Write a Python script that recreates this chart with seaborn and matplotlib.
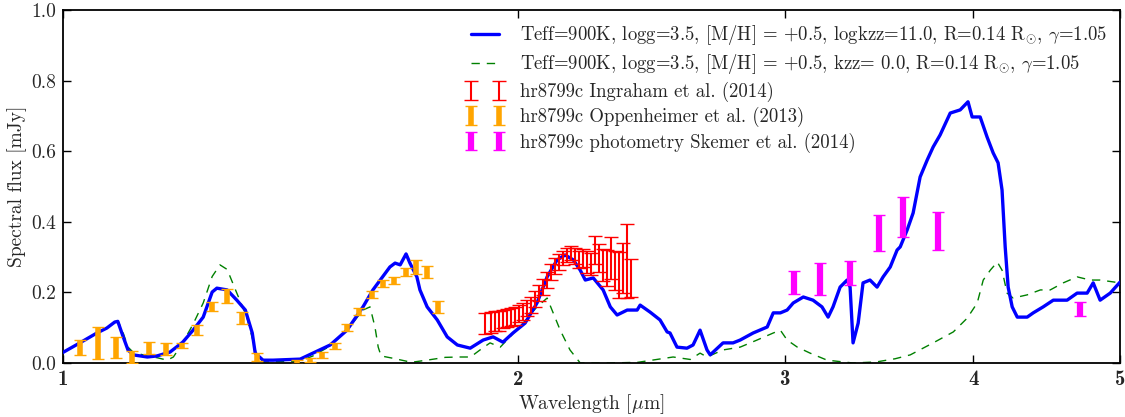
import numpy as np
import pandas as pd
import matplotlib
matplotlib.use("Agg")
import matplotlib.pyplot as plt
import seaborn as sns

# ---------------- data ----------------
wl_kzz11 = [1.000, 1.026, 1.053, 1.069, 1.082, 1.087, 1.096, 1.104, 1.113, 1.137, 1.154, 1.177,
            1.200, 1.219, 1.238, 1.255, 1.264, 1.284, 1.303, 1.320, 1.334, 1.340, 1.356, 1.377,
            1.435, 1.463, 1.502, 1.541, 1.579, 1.603, 1.621, 1.645, 1.658, 1.671, 1.686, 1.696,
            1.714, 1.722, 1.741, 1.768, 1.795, 1.823, 1.859, 1.896, 1.925, 1.954, 1.984, 2.021,
            2.058, 2.090, 2.122, 2.148, 2.175, 2.198, 2.215, 2.242, 2.276, 2.301, 2.325, 2.361,
            2.397, 2.408, 2.445, 2.482, 2.509, 2.520, 2.547, 2.586, 2.610, 2.638, 2.666, 2.679,
            2.732, 2.774, 2.804, 2.860, 2.922, 2.949, 2.981, 3.012, 3.040, 3.087, 3.133, 3.176,
            3.206, 3.230, 3.265, 3.300, 3.315, 3.330, 3.356, 3.381, 3.417, 3.454, 3.486, 3.524,
            3.561, 3.578, 3.616, 3.649, 3.688, 3.728, 3.762, 3.802, 3.861, 3.920, 3.967, 3.992,
            4.041, 4.084, 4.122, 4.153, 4.178, 4.198, 4.217, 4.243, 4.276, 4.341, 4.381, 4.448,
            4.517, 4.613, 4.684, 4.756, 4.800, 4.851, 4.926, 5.000]
fx_kzz11 = [0.030, 0.057, 0.085, 0.099, 0.116, 0.118, 0.074, 0.037, 0.023, 0.017, 0.020, 0.031,
            0.059, 0.093, 0.130, 0.201, 0.212, 0.207, 0.178, 0.150, 0.085, 0.028, 0.008, 0.008,
            0.011, 0.028, 0.051, 0.093, 0.159, 0.207, 0.235, 0.272, 0.283, 0.278, 0.309, 0.283,
            0.244, 0.207, 0.159, 0.122, 0.074, 0.051, 0.042, 0.065, 0.074, 0.059, 0.085, 0.113,
            0.170, 0.244, 0.292, 0.306, 0.292, 0.263, 0.235, 0.241, 0.207, 0.159, 0.136, 0.150,
            0.150, 0.164, 0.144, 0.122, 0.088, 0.085, 0.045, 0.042, 0.051, 0.093, 0.037, 0.023,
            0.057, 0.057, 0.065, 0.085, 0.102, 0.142, 0.142, 0.150, 0.170, 0.187, 0.178, 0.159,
            0.130, 0.159, 0.215, 0.235, 0.215, 0.057, 0.113, 0.227, 0.235, 0.215, 0.244, 0.272,
            0.320, 0.329, 0.377, 0.425, 0.527, 0.575, 0.612, 0.646, 0.708, 0.717, 0.740, 0.697,
            0.697, 0.640, 0.595, 0.567, 0.490, 0.329, 0.215, 0.159, 0.130, 0.130, 0.142, 0.159,
            0.178, 0.178, 0.198, 0.198, 0.227, 0.178, 0.198, 0.229]

wl_kzz0 = [1.000, 1.026, 1.053, 1.069, 1.082, 1.087, 1.096, 1.104, 1.113, 1.137, 1.154, 1.172,
           1.183, 1.200, 1.219, 1.238, 1.255, 1.270, 1.284, 1.303, 1.323, 1.344, 1.356, 1.435,
           1.463, 1.502, 1.541, 1.579, 1.596, 1.608, 1.616, 1.623, 1.650, 1.700, 1.740, 1.790,
           1.830, 1.860, 1.887, 1.916, 1.946, 1.975, 2.015, 2.058, 2.090, 2.132, 2.164, 2.198,
           2.300, 2.400, 2.532, 2.599, 2.638, 2.666, 2.732, 2.804, 2.877, 2.949, 2.981, 3.012,
           3.059, 3.119, 3.201, 3.330, 3.450, 3.550, 3.633, 3.762, 3.879, 3.962, 4.023, 4.060,
           4.104, 4.148, 4.178, 4.210, 4.249, 4.341, 4.429, 4.496, 4.586, 4.684, 4.778, 4.851,
           5.000]
fx_kzz0 = [0.030, 0.057, 0.085, 0.099, 0.116, 0.120, 0.085, 0.045, 0.030, 0.020, 0.015, 0.008,
           0.017, 0.057, 0.110, 0.170, 0.245, 0.278, 0.265, 0.198, 0.130, 0.017, 0.003, 0.005,
           0.020, 0.048, 0.093, 0.150, 0.159, 0.102, 0.045, 0.020, 0.014, 0.002, 0.008, 0.016,
           0.017, 0.017, 0.037, 0.057, 0.045, 0.074, 0.113, 0.159, 0.184, 0.093, 0.037, 0.000,
           0.000, 0.002, 0.017, 0.010, 0.028, 0.017, 0.037, 0.045, 0.065, 0.085, 0.093, 0.065,
           0.045, 0.028, 0.008, 0.000, 0.003, 0.012, 0.023, 0.057, 0.088, 0.127, 0.170, 0.235,
           0.263, 0.286, 0.263, 0.198, 0.184, 0.193, 0.207, 0.207, 0.227, 0.244, 0.235, 0.235,
           0.227]

ing_wl = [1.900, 1.919, 1.931, 1.943, 1.954, 1.967, 1.978, 1.991, 2.003, 2.015, 2.027, 2.040,
          2.052, 2.065, 2.077, 2.090, 2.102, 2.115, 2.128, 2.141, 2.154, 2.168, 2.181, 2.194,
          2.208, 2.221, 2.235, 2.248, 2.262, 2.276, 2.290, 2.304, 2.318, 2.332, 2.346, 2.361,
          2.375]
ing_fx = [0.112, 0.115, 0.118, 0.120, 0.124, 0.127, 0.130, 0.134, 0.140, 0.145, 0.156, 0.164,
          0.181, 0.198, 0.215, 0.235, 0.258, 0.275, 0.286, 0.297, 0.306, 0.312, 0.303, 0.292,
          0.297, 0.286, 0.280, 0.320, 0.297, 0.278, 0.269, 0.297, 0.263, 0.249, 0.269, 0.290,
          0.241]
ing_err = [0.030, 0.030, 0.028, 0.028, 0.026, 0.026, 0.025, 0.025, 0.024, 0.024, 0.023, 0.023,
           0.023, 0.023, 0.023, 0.023, 0.023, 0.023, 0.022, 0.020, 0.020, 0.020, 0.022, 0.024,
           0.026, 0.030, 0.032, 0.040, 0.040, 0.045, 0.050, 0.060, 0.055, 0.065, 0.070, 0.105,
           0.055]

opp_wl = [1.026, 1.055, 1.084, 1.111, 1.140, 1.170, 1.199, 1.226, 1.255, 1.284, 1.313, 1.344,
          1.428, 1.457, 1.483, 1.513, 1.541, 1.570, 1.601, 1.628, 1.655, 1.686, 1.712, 1.741,
          1.770]
opp_fx = [0.045, 0.057, 0.045, 0.017, 0.042, 0.040, 0.050, 0.093, 0.160, 0.190, 0.128, 0.017,
          0.003, 0.008, 0.023, 0.048, 0.100, 0.147, 0.193, 0.226, 0.235, 0.258, 0.272, 0.258,
          0.159]
opp_err = [0.021, 0.045, 0.030, 0.016, 0.017, 0.016, 0.008, 0.014, 0.014, 0.020, 0.017, 0.010,
           0.005, 0.006, 0.008, 0.008, 0.010, 0.010, 0.010, 0.010, 0.010, 0.012, 0.020, 0.016,
           0.018]

sk_wl = [3.044, 3.167, 3.315, 3.465, 3.594, 3.791, 4.706]
sk_fx = [0.229, 0.238, 0.255, 0.368, 0.414, 0.374, 0.153]
sk_err = [0.033, 0.045, 0.035, 0.052, 0.057, 0.053, 0.021]

x_ticks = [1, 2, 3, 4, 5]
y_ticks = [0.0, 0.2, 0.4, 0.6, 0.8, 1.0]

lab_kzz11 = r"Teff=900K, logg=3.5, [M/H] = +0.5, logkzz=11.0, R=0.14 R$_{\odot}$, $\gamma$=1.05"
lab_kzz0 = r"Teff=900K, logg=3.5, [M/H] = +0.5, kzz= 0.0, R=0.14 R$_{\odot}$, $\gamma$=1.05"
lab_ing = "hr8799c Ingraham et al. (2014)"
lab_opp = "hr8799c Oppenheimer et al. (2013)"
lab_sk = "hr8799c photometry Skemer et al. (2014)"

# ---------------- style ----------------
sns.set_style("ticks")
plt.rcParams.update({
    "font.family": ["serif"],
    "font.serif": ["cmr10", "DejaVu Serif"],
    "mathtext.fontset": "cm",
    "axes.formatter.use_mathtext": True,
    "axes.unicode_minus": False,
    "xtick.direction": "in",
    "ytick.direction": "in",
    "xtick.top": True,
    "ytick.right": True,
    "axes.edgecolor": "black",
    "axes.linewidth": 1.3,
})

fig = plt.figure(figsize=(11.25, 4.17), dpi=100)
ax = fig.add_axes([63 / 1125, 1 - 363 / 417, (1120 - 63) / 1125, (363 - 10) / 417])

df11 = pd.DataFrame({"wl": wl_kzz11, "flux": fx_kzz11})
df0 = pd.DataFrame({"wl": wl_kzz0, "flux": fx_kzz0})

sns.lineplot(data=df11, x="wl", y="flux", ax=ax, color="blue", lw=2.4,
             label=lab_kzz11, sort=False, estimator=None, zorder=3)
sns.lineplot(data=df0, x="wl", y="flux", ax=ax, color="green", lw=1.0,
             dashes=False, label=lab_kzz0, sort=False, estimator=None, zorder=2)
ax.lines[-1].set_linestyle((0, (6, 5)))

ax.errorbar(ing_wl, ing_fx, yerr=ing_err, fmt="none", ecolor="red", elinewidth=1.5,
            capsize=5, capthick=1.0, label=lab_ing, zorder=4)
ax.errorbar(opp_wl, opp_fx, yerr=opp_err, fmt="none", ecolor="orange", elinewidth=4,
            capsize=4, capthick=1.0, label=lab_opp, zorder=4)
ax.errorbar(sk_wl, sk_fx, yerr=sk_err, fmt="none", ecolor="magenta", elinewidth=4.5,
            capsize=4, capthick=1.0, label=lab_sk, zorder=4)

ax.set_xscale("log")
ax.set_xlim(1, 5)
ax.set_ylim(0, 1.0)
ax.set_xticks(x_ticks)
ax.set_xticklabels([str(t) for t in x_ticks], fontfamily="cmb10", fontsize=15)
ax.xaxis.set_minor_locator(matplotlib.ticker.NullLocator())
ax.set_yticks(y_ticks)
ax.set_yticklabels([f"{t:.1f}" for t in y_ticks], fontsize=14)
ax.tick_params(axis="both", which="major", length=6, width=1.0, color="black", pad=5)

ax.set_xlabel(r"Wavelength [$\mu$m]", fontsize=14, labelpad=2)
ax.set_ylabel("Spectral flux [mJy]", fontsize=14, labelpad=3)

leg = ax.legend(loc="upper right", frameon=False, fontsize=13.5, numpoints=2,
                handlelength=2.1, labelspacing=0.28, borderaxespad=0.3, handletextpad=0.8)

fig.savefig("out.png", dpi=100)
